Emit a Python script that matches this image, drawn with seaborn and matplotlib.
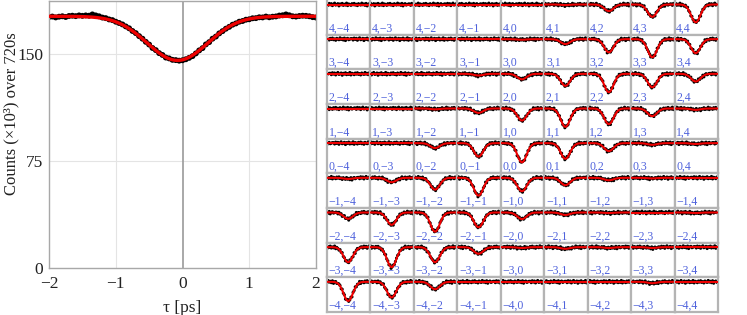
import numpy as np
import pandas as pd
import matplotlib
matplotlib.use("Agg")
import matplotlib.pyplot as plt
import seaborn as sns

# ---------------- data ----------------
tau_main = np.round(np.arange(-2.0, 2.0001, 0.05), 2)
counts_main = [
    175.8, 176.1, 175.5, 176.0, 176.3, 175.8, 176.5, 176.7, 176.4, 176.9,
    176.6, 176.9, 176.7, 177.6, 176.9, 176.3, 175.4, 175.0, 174.1, 173.6,
    172.5, 171.6, 170.6, 169.2, 167.9, 166.0, 164.5, 162.4, 160.6, 158.4,
    156.5, 154.1, 152.6, 150.5, 149.2, 147.4, 146.8, 145.8, 145.6, 145.2,
    145.5, 146.2, 147.2, 148.4, 150.3, 152.4, 154.0, 156.6, 158.2, 160.6,
    162.1, 164.3, 165.9, 167.6, 168.9, 170.4, 171.3, 172.5, 173.0, 173.9,
    174.2, 174.9, 175.0, 175.6, 175.5, 176.1, 175.6, 176.0, 176.2, 176.8,
    177.0, 177.6, 177.0, 176.3, 176.1, 176.5, 176.7, 176.6, 176.3, 175.7,
    175.4,
]
# fitted dip parameters
fit_base, fit_depth, fit_center, fit_sigma = 176.3, 30.9, -0.075, 0.454

x_ticks = [-2, -1, 0, 1, 2]
y_ticks = [0, 75, 150]

# 9x9 grid of mode pairs
row_idx = [4, 3, 2, 1, 0, -1, -2, -3, -4]
col_idx = [-4, -3, -2, -1, 0, 1, 2, 3, 4]
dip_depth = [
    [0.00, 0.00, 0.00, 0.00, 0.00, 0.02, 0.24, 0.45, 0.65],
    [0.00, 0.00, 0.00, 0.00, 0.02, 0.18, 0.48, 0.66, 0.51],
    [0.00, 0.00, 0.00, 0.06, 0.20, 0.44, 0.67, 0.49, 0.28],
    [0.00, 0.00, 0.03, 0.16, 0.44, 0.67, 0.57, 0.28, 0.05],
    [0.00, 0.00, 0.18, 0.49, 0.70, 0.57, 0.29, 0.06, 0.03],
    [0.04, 0.16, 0.43, 0.65, 0.49, 0.27, 0.09, 0.02, 0.00],
    [0.23, 0.45, 0.70, 0.54, 0.24, 0.09, 0.02, 0.00, 0.02],
    [0.55, 0.73, 0.55, 0.24, 0.03, 0.06, 0.03, 0.03, 0.00],
    [0.70, 0.57, 0.27, 0.00, 0.00, 0.00, 0.00, 0.05, 0.00],
]
cell_center = -0.05
cell_sigma = 0.43
cell_tau = np.round(np.arange(-2.0, 2.0001, 0.1), 2)
cell_noise = [0.02, -0.03, 0.04, -0.01, 0.03, -0.04, 0.01, 0.05, -0.02, 0.00,
              0.03, -0.05, 0.02, -0.01, 0.04, -0.03, 0.01, -0.02, 0.05, -0.04,
              0.02, 0.00, -0.03, 0.03, -0.01, 0.04, -0.02, 0.01, -0.04, 0.03,
              0.00, -0.02, 0.05, -0.01, 0.02, -0.03, 0.04, -0.05, 0.01, 0.03,
              -0.02, 0.00, 0.02]

# ---------------- style ----------------
sns.set_theme(style="white")
plt.rcParams["font.family"] = ["Liberation Serif", "DejaVu Serif"]
plt.rcParams["axes.unicode_minus"] = True

W, H = 747, 315
fig = plt.figure(figsize=(W / 100, H / 100), dpi=100)

def dip(t, base, depth, c, s):
    return base - depth * np.exp(-(t - c) ** 2 / (2 * s ** 2))

# ---------------- left panel ----------------
ax = fig.add_axes([49 / W, (H - 268) / H, (316 - 49) / W, 267 / H])
for xv in [-1, 1]:
    ax.axvline(xv, color="#e4e4e4", lw=0.8, zorder=0)
for yv in [75, 150]:
    ax.axhline(yv, color="#e4e4e4", lw=0.8, zorder=0)
ax.axvline(0, color="#9a9a9a", lw=1.2, zorder=1)

main_df = pd.DataFrame({"tau": tau_main, "counts": counts_main})
sns.scatterplot(data=main_df, x="tau", y="counts", ax=ax, color="black",
                s=18, edgecolor="none", zorder=2)
tfit = np.linspace(-2, 2, 401)
fit_df = pd.DataFrame({"tau": tfit,
                       "fit": dip(tfit, fit_base, fit_depth, fit_center, fit_sigma)})
sns.lineplot(data=fit_df, x="tau", y="fit", ax=ax, color="#ee0000", lw=2.4, zorder=3)

ax.set_xlim(-2, 2)
ax.set_ylim(0, 187)
ax.set_xticks(x_ticks)
ax.set_xticklabels([str(v).replace("-", "\u2212") for v in x_ticks])
ax.set_yticks(y_ticks)
ax.set_yticklabels([str(v) for v in y_ticks])
ax.tick_params(direction="in", length=4, width=0.8, color="#9a9a9a",
               labelsize=12.5, labelcolor="#222222")
ax.tick_params(axis="x", pad=6)
ax.tick_params(axis="y", pad=4)
ax.set_xlabel("\u03c4 [ps]", fontsize=12.5, color="#222222", va="top")
ax.xaxis.set_label_coords(0.497, -0.118)
ax.set_ylabel("Counts (\u00d710\u00b3) over 720s", fontsize=12, color="#222222")
ax.yaxis.set_label_coords(-0.112, 0.58)
for sp in ax.spines.values():
    sp.set_color("#a8a8a8")
    sp.set_linewidth(1.0)

# ---------------- grid of cells ----------------
gx0, gx1, gy0, gy1 = 327.0, 718.0, 0.0, 312.0
cw = (gx1 - gx0) / 9
ch = (gy1 - gy0) / 9
k = 0
for r, i in enumerate(row_idx):
    for c, j in enumerate(col_idx):
        left = (gx0 + c * cw) / W
        bottom = (H - (gy0 + (r + 1) * ch)) / H
        cax = fig.add_axes([left, bottom, cw / W, ch / H])
        d = dip_depth[r][c]
        off = (k * 7) % len(cell_noise)
        noise = np.array([cell_noise[(off + n) % len(cell_noise)] for n in range(len(cell_tau))])
        ydat = dip(cell_tau, 1.0, d, cell_center, cell_sigma) + noise
        cdf = pd.DataFrame({"tau": cell_tau, "y": ydat})
        sns.scatterplot(data=cdf, x="tau", y="y", ax=cax, color="black", s=5,
                        edgecolor="none", zorder=2)
        tf = np.linspace(-2, 2, 121)
        fdf = pd.DataFrame({"tau": tf, "y": dip(tf, 1.0, d, cell_center, cell_sigma)})
        sns.lineplot(data=fdf, x="tau", y="y", ax=cax, color="#ee0000", lw=1.5, zorder=3)
        cax.set_xlim(-2, 2)
        cax.set_ylim(-0.105, 1.165)
        cax.set_xticks([])
        cax.set_yticks([])
        cax.set_xlabel("")
        cax.set_ylabel("")
        for name, sp in cax.spines.items():
            sp.set_color("#b4b4b4")
            sp.set_linewidth(1.6)
        if r == 0:
            cax.spines["top"].set_visible(False)
        lab = f"{i},{j}".replace("-", "\u2212")
        cax.text(0.04, 0.01, lab, transform=cax.transAxes, ha="left", va="bottom",
                 fontsize=8.5, color="#4f62dc")
        k += 1

fig.savefig("out.png", dpi=100)
